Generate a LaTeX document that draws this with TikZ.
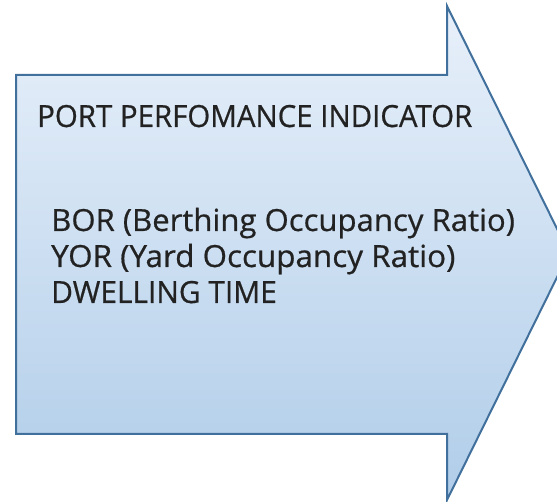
\documentclass[tikz,border=0pt]{standalone}
\usepackage{fontspec}
\setmainfont{Open Sans}[FakeBold=0.6]
\definecolor{arrowtop}{HTML}{E8F0FA}
\definecolor{arrowbottom}{HTML}{B0CDE9}
\definecolor{arrowedge}{HTML}{41709C}
\definecolor{textgray}{HTML}{222222}
\tikzset{
  bigarrow/.style={draw=arrowedge, line width=2pt, line join=miter,
    top color=arrowtop, bottom color=arrowbottom},
  label/.style={anchor=base west, inner sep=0pt, text=textgray,
    font=\fontsize{30.5}{36}\selectfont, transform shape},
}
\begin{document}
\begin{tikzpicture}[x=1pt,y=1pt]
  \useasboundingbox (0,0) rectangle (557,502);
  \begin{scope}
    \clip (0,0) rectangle (557,502);
    % block arrow pointing right
    \path[bigarrow] (16,427) -- (447,427) -- (447,496) -- (569,249)
      -- (447,2) -- (447,68) -- (16,68) -- cycle;
  \end{scope}
  \node[label, xscale=0.965] (title) at (37,375) {PORT PERFOMANCE INDICATOR};
  \node[label, xscale=1.02] (bor) at (51,271) {BOR (Berthing Occupancy Ratio)};
  \node[label, xscale=1.03] (yor) at (51,235) {YOR (Yard Occupancy Ratio)};
  \node[label, xscale=0.98] (dwell) at (51,199) {DWELLING TIME};
\end{tikzpicture}
\end{document}
